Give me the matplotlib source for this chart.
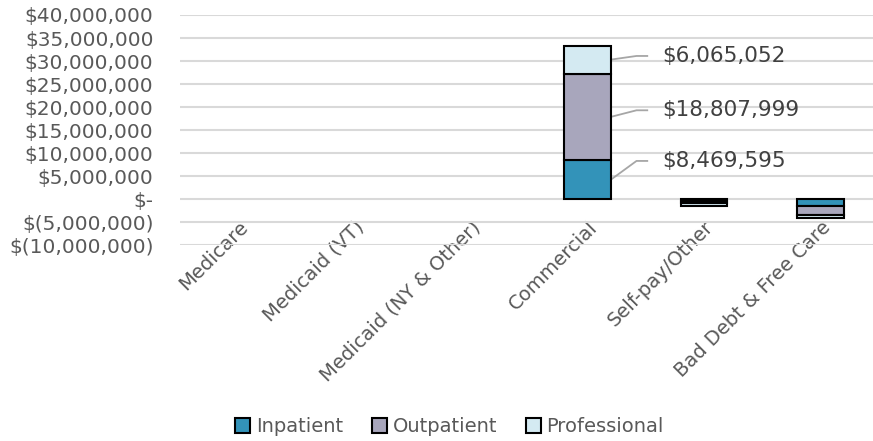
import matplotlib.pyplot as plt
from matplotlib.ticker import FuncFormatter
from matplotlib.patches import Patch

categories = ["Medicare", "Medicaid (VT)", "Medicaid (NY & Other)",
              "Commercial", "Self-pay/Other", "Bad Debt & Free Care"]
inpatient = [0, 0, 0, 8469595, -300000, -1400000]
outpatient = [0, 0, 0, 18807999, -600000, -2000000]
professional = [0, 0, 0, 6065052, -500000, -800000]
series_names = ["Inpatient", "Outpatient", "Professional"]
colors = ["#3393b9", "#a8a6bc", "#d4eaf2"]

# label spots for the commercial bar (y in dollars)
label_y = [8300000, 19300000, 31100000]


def money(v, pos=None):
    if v == 0:
        return "$-"
    if v < 0:
        return "$({:,.0f})".format(-v)
    return "${:,.0f}".format(v)


plt.rcParams['font.family'] = ['DejaVu Sans']
fig = plt.figure(figsize=(8.73, 4.41), dpi=100)
ax = fig.add_axes([0.206, 0.444, 0.794, 0.522])

x = list(range(len(categories)))
series = [inpatient, outpatient, professional]
pos_bottom = [0] * len(x)
neg_bottom = [0] * len(x)
for vals, col in zip(series, colors):
    xs, hs, bs = [], [], []
    for i, v in enumerate(vals):
        if v == 0:
            continue
        if v > 0:
            bs.append(pos_bottom[i])
            pos_bottom[i] += v
        else:
            bs.append(neg_bottom[i])
            neg_bottom[i] += v
        xs.append(i)
        hs.append(v)
    ax.bar(xs, hs, bottom=bs, width=0.4, color=col,
           edgecolor="black", linewidth=1.5, zorder=3)

# data labels with leader lines on commercial
ci = categories.index("Commercial")
start = 0
for vals, ly in zip(series, label_y):
    v = vals[ci]
    mid = start + v / 2
    start += v
    ax.plot([ci + 0.2, ci + 0.42, ci + 0.52], [mid, ly, ly],
            color="#a6a6a6", lw=1.3, zorder=2, solid_capstyle="butt")
    ax.text(ci + 0.645, ly, money(v), fontsize=15.5, color="#404040",
            va="center", ha="left")

ax.set_ylim(-10000000, 40000000)
ax.set_xlim(-0.5, len(categories) - 0.55)
ax.set_yticks(range(-10000000, 40000001, 5000000))
ax.yaxis.set_major_formatter(FuncFormatter(money))
ax.grid(axis="y", color="#d9d9d9", lw=1.5, zorder=0)
ax.set_axisbelow(True)
for s in ax.spines.values():
    s.set_visible(False)
ax.tick_params(length=0, labelsize=14.5, labelcolor="#595959")
ax.tick_params(axis="y", pad=19)
ax.tick_params(axis="x", pad=-20, labelsize=14)
ax.set_xticks(x)
ax.set_xticklabels(categories, rotation=45, ha="right", rotation_mode="anchor")

handles = [Patch(facecolor=c, edgecolor="black", lw=1.5) for c in colors]
fig.legend(handles, series_names, loc="center", bbox_to_anchor=(0.515, 0.032),
           ncol=3, frameon=False, fontsize=14, handlelength=0.75,
           handleheight=0.75, handletextpad=0.3, columnspacing=1.5,
           labelcolor="#595959")

fig.savefig("out.png", dpi=100)
